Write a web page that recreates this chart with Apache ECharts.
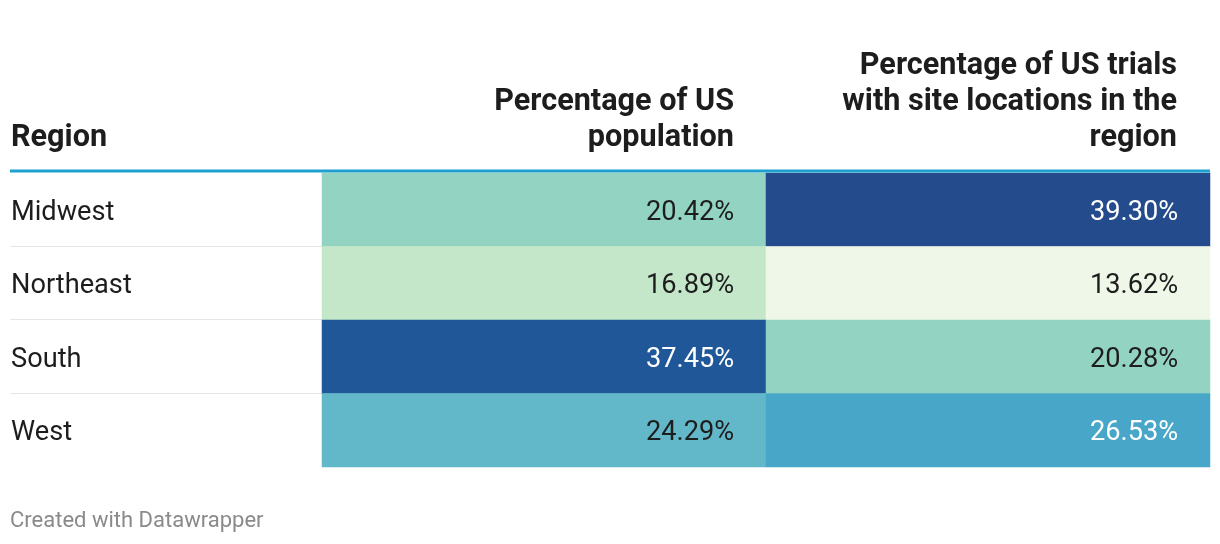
<!DOCTYPE html>
<html>
<head>
<meta charset="utf-8">
<script src="https://cdn.jsdelivr.net/npm/echarts@6/dist/echarts.min.js"></script>
<style>
html,body{margin:0;padding:0;background:#fff;}
#chart{width:1220px;height:544px;}
</style>
</head>
<body>
<div id="chart"></div>
<script>
const regions = ['Midwest', 'Northeast', 'South', 'West'];
const columnHeaders = ['Percentage of US\npopulation', 'Percentage of US trials\nwith site locations in the\nregion'];
const rowHeader = 'Region';
const populationPct = [20.42, 16.89, 37.45, 24.29];
const trialsPct = [39.30, 13.62, 20.28, 26.53];
const footer = 'Created with Datawrapper';

const FONT = 'Roboto, "Noto Sans", sans-serif';
const BODY = 27.2, HEAD = 30.6;
const data = [];
regions.forEach((r, i) => {
  data.push([0, i, populationPct[i]]);
  data.push([1, i, trialsPct[i]]);
});

const chart = echarts.init(document.getElementById('chart'));

const W = 1220, gridLeft = 322, gridRight = 10, gridTop = 173, gridBottom = 77;
const gridW = W - gridLeft - gridRight;
const colW = gridW / 2;
const rowH = (544 - gridTop - gridBottom) / regions.length;

const graphics = [];
graphics.push({type:'rect', shape:{x:10, y:169.5, width:1200, height:3}, style:{fill:'#1ea0cf'}, z:10});
for (let i = 1; i < regions.length; i++) {
  const y = Math.round(gridTop + rowH * i) - 0.5;
  graphics.push({type:'line', shape:{x1:10, y1:y, x2:gridLeft, y2:y}, style:{stroke:'#e6e6e6', lineWidth:1}});
}
graphics.push({type:'text', x:11, y:138, style:{text:rowHeader, font:'bold ' + HEAD + 'px ' + FONT, fill:'#1d1d1d', verticalAlign:'middle'}});
columnHeaders.forEach((h, c) => {
  const lines = h.split('\n').length;
  const rightX = gridLeft + colW * (c + 1) - (c === 0 ? 32 : 33);
  graphics.push({type:'text', x:rightX, y:156 - lines * 36,
    style:{text:h, font:'bold ' + HEAD + 'px ' + FONT, fill:'#1d1d1d', align:'right', verticalAlign:'top', lineHeight:36}});
});
graphics.push({type:'text', x:10, y:521, style:{text:footer, font:'22px ' + FONT, fill:'#8a8a8a', verticalAlign:'middle'}});

chart.setOption({
  animation:false,
  grid:{left:gridLeft, right:gridRight, top:gridTop, bottom:gridBottom},
  xAxis:{type:'category', data:['pop','trials'], show:false},
  yAxis:{type:'category', data:regions, inverse:true,
    axisLine:{show:false}, axisTick:{show:false}, splitLine:{show:false},
    axisLabel:{align:'left', margin:311,
      formatter:v => '{r|' + v + '}',
      rich:{r:{fontSize:BODY, fontFamily:FONT, color:'#1d1d1d', padding:[6,0,0,0]}}}},
  visualMap:{type:'piecewise', show:false, dimension:2, seriesIndex:0,
    pieces:[
      {lt:15, color:'#eff8e8'},
      {gte:15, lt:19, color:'#c5e7c9'},
      {gte:19, lt:22, color:'#93d3c2'},
      {gte:22, lt:25.5, color:'#62b8c8'},
      {gte:25.5, lt:30, color:'#48a6c8'},
      {gte:30, lt:38.5, color:'#1f5799'},
      {gte:38.5, color:'#244b8c'}
    ]},
  graphic:graphics,
  series:[{
    type:'heatmap',
    data:data,
    itemStyle:{borderWidth:0},
    emphasis:{disabled:true},
    label:{show:true, position:'insideRight', distance:32,
      formatter:p => (p.value[2] > 25 ? '{w|' : '{d|') + p.value[2].toFixed(2) + '%}',
      rich:{
        w:{color:'#ffffff', fontSize:BODY, fontFamily:FONT, padding:[6,0,0,0]},
        d:{color:'#1d1d1d', fontSize:BODY, fontFamily:FONT, padding:[6,0,0,0]}
      }}
  }]
});
</script>
</body>
</html>
